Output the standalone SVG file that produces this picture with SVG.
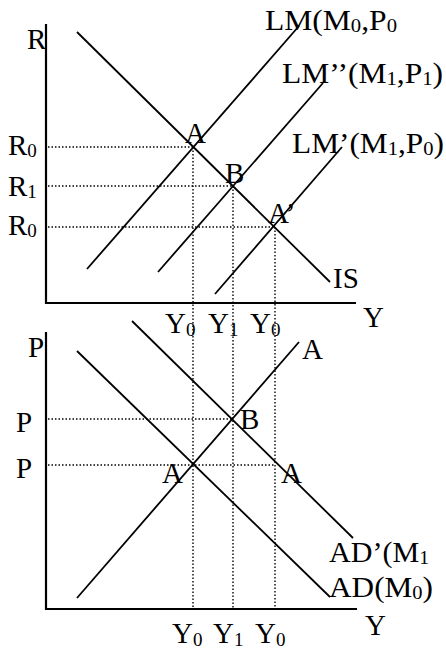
<svg xmlns="http://www.w3.org/2000/svg" width="446" height="650" viewBox="0 0 446 650">
<style>
.ax{stroke:#000;stroke-width:2.2;fill:none}
.ln{stroke:#000;stroke-width:1.8;fill:none}
.dt{stroke:#000;stroke-width:1.4;stroke-dasharray:1.5 2;fill:none}
text{font-family:"Liberation Serif","Times New Roman",serif;font-size:29px;fill:#000}
.s{font-size:19px}
</style>
<rect width="446" height="650" fill="#fff"/>
<g id="guides">
<line class="dt" x1="48" y1="147" x2="193" y2="147"/>
<line class="dt" x1="48" y1="186" x2="233" y2="186"/>
<line class="dt" x1="48" y1="227" x2="274" y2="227"/>
<line class="dt" x1="48" y1="419" x2="233" y2="419"/>
<line class="dt" x1="48" y1="465" x2="275" y2="465"/>
<line class="dt" x1="193" y1="147" x2="193" y2="608"/>
<line class="dt" x1="233" y1="186" x2="233" y2="608"/>
<line class="dt" x1="275" y1="227" x2="275" y2="608"/>
</g>
<g id="axes">
<polyline class="ax" points="46,24 46,303 356,303"/>
<polyline class="ax" points="46,332 46,609 357,609"/>
</g>
<g id="curves">
<line id="IS" class="ln" x1="77" y1="32" x2="330" y2="282"/>
<line id="LM0" class="ln" x1="87" y1="269" x2="299" y2="26"/>
<line id="LM2" class="ln" x1="158" y1="272" x2="323" y2="83"/>
<line id="LM1" class="ln" x1="215" y1="294" x2="342" y2="147"/>
<line id="AS" class="ln" x1="77" y1="598" x2="299" y2="342"/>
<line id="AD" class="ln" x1="77" y1="351" x2="330" y2="597"/>
<line id="AD1" class="ln" x1="132" y1="321" x2="353" y2="538"/>
</g>
<g id="labels-top">
<text x="27" y="49">R</text>
<text x="265" y="30" textLength="132" lengthAdjust="spacingAndGlyphs">LM(M<tspan class="s" dy="2">0</tspan><tspan dy="-2">,P</tspan><tspan class="s" dy="2">0</tspan></text>
<text x="282" y="83" textLength="161" lengthAdjust="spacingAndGlyphs">LM’’(M<tspan class="s" dy="2">1</tspan><tspan dy="-2">,P</tspan><tspan class="s" dy="2">1</tspan><tspan dy="-2">)</tspan></text>
<text x="292" y="153" textLength="152" lengthAdjust="spacingAndGlyphs">LM’(M<tspan class="s" dy="2">1</tspan><tspan dy="-2">,P</tspan><tspan class="s" dy="2">0</tspan><tspan dy="-2">)</tspan></text>
<text x="8" y="155">R<tspan class="s" dy="2">0</tspan></text>
<text x="8" y="196">R<tspan class="s" dy="2">1</tspan></text>
<text x="8" y="235">R<tspan class="s" dy="2">0</tspan></text>
<text x="185" y="143">A</text>
<text x="225" y="183">B</text>
<text x="268" y="223">A’</text>
<text x="333" y="288">IS</text>
<text x="363" y="327">Y</text>
<text x="165" y="333">Y<tspan class="s" dy="3">0</tspan></text>
<text x="208" y="333">Y<tspan class="s" dy="3">1</tspan></text>
<text x="250" y="333">Y<tspan class="s" dy="3">0</tspan></text>
</g>
<g id="labels-bottom">
<text x="28" y="357">P</text>
<text x="16" y="432">P</text>
<text x="16" y="478">P</text>
<text x="302" y="359">A</text>
<text x="240" y="429">B</text>
<text x="162" y="483">A</text>
<text x="281" y="483">A</text>
<text x="329" y="562" textLength="100" lengthAdjust="spacingAndGlyphs">AD’(M<tspan class="s" dy="2">1</tspan></text>
<text x="329" y="597" textLength="104" lengthAdjust="spacingAndGlyphs">AD(M<tspan class="s" dy="2">0</tspan><tspan dy="-2">)</tspan></text>
<text x="365" y="635">Y</text>
<text x="172" y="643">Y<tspan class="s" dy="3">0</tspan></text>
<text x="213" y="643">Y<tspan class="s" dy="3">1</tspan></text>
<text x="255" y="643">Y<tspan class="s" dy="3">0</tspan></text>
</g>
</svg>
